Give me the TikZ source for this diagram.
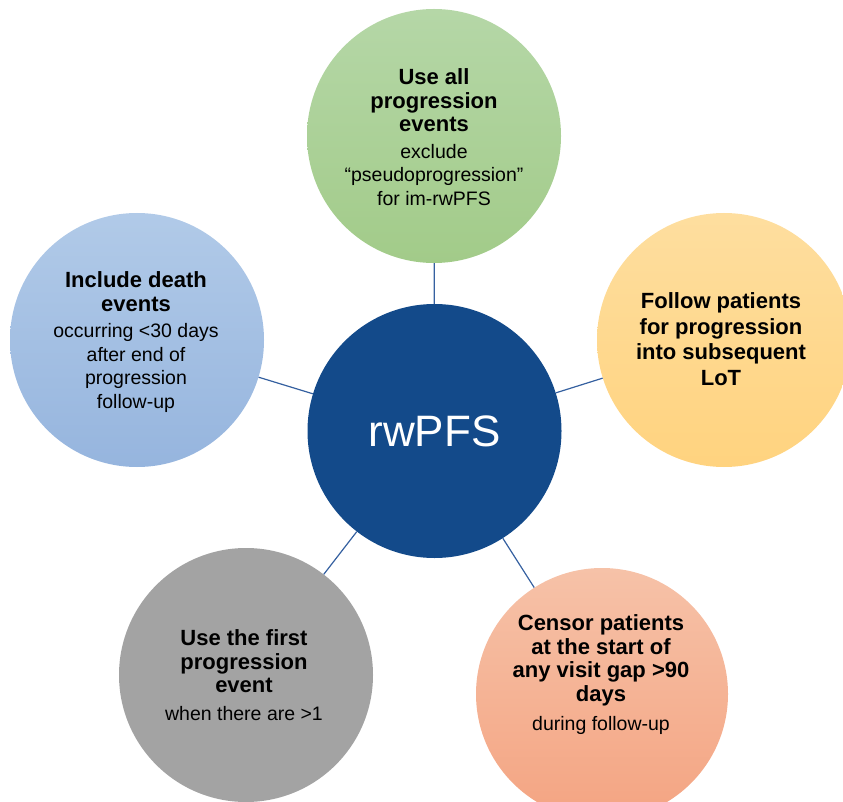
\documentclass[tikz,border=0pt]{standalone}
\usepackage{fontspec}
\setmainfont{Liberation Sans}
\definecolor{ctrblue}{HTML}{134A8A}
\definecolor{lnblue}{HTML}{3560A0}
\definecolor{gtop}{HTML}{B5D7A7}
\definecolor{gbot}{HTML}{A2CB89}
\definecolor{ytop}{HTML}{FEDE9F}
\definecolor{ybot}{HTML}{FFD37F}
\definecolor{btop}{HTML}{B1CAE8}
\definecolor{bbot}{HTML}{96B5DE}
\definecolor{grey}{HTML}{A3A3A3}
\definecolor{stop}{HTML}{F6C2A8}
\definecolor{sbot}{HTML}{F4A482}
\tikzset{
  bub/.style={circle, minimum size=254pt, inner sep=0pt, draw=none},
  ctr/.style={bub, fill=ctrblue, text=white, font=\fontsize{44}{48}\selectfont},
  txt/.style={align=center, inner sep=0pt, font=\fontsize{22}{23.5}\selectfont\bfseries},
  sub/.style={font=\mdseries\fontsize{19.5}{23.5}\selectfont},
  conn/.style={draw=lnblue, line width=1.2pt}
}
\begin{document}
\begin{tikzpicture}[x=1pt,y=-1pt]
\useasboundingbox (0,0) rectangle (843,802);
\node[bub, shading=axis, top color=gtop, bottom color=gbot] (g) at (434,136) {};
\node[bub, shading=axis, top color=ytop, bottom color=ybot] (y) at (724,340) {};
\node[bub, shading=axis, top color=btop, bottom color=bbot] (b) at (137,340) {};
\node[bub, fill=grey] (k) at (246,675) {};
\node[bub, shading=axis, top color=stop, bottom color=sbot, minimum size=252pt] (s) at (602,694) {};
\node[ctr] (c) at (434.5,431) {rwPFS};
\draw[conn] (c) -- (g);
\draw[conn] (c) -- (y);
\draw[conn] (c) -- (b);
\draw[conn] (c) -- (k);
\draw[conn] (c) -- (s);
\node[txt] (gt) at (434,137) {Use all\\progression\\events\\[3pt]{\mdseries\fontsize{19.5}{23.5}\selectfont exclude}\\{\mdseries\fontsize{19.5}{23.5}\selectfont “pseudoprogression”}\\{\mdseries\fontsize{19.5}{23.5}\selectfont for im-rwPFS}};
\node[txt, font=\fontsize{22}{25.5}\selectfont\bfseries] (yt) at (721,339) {Follow patients\\for progression\\into subsequent\\LoT};
\node[txt] (bt) at (136,342) {Include death\\events\\[3pt]{\mdseries\fontsize{19.5}{23.5}\selectfont occurring <30 days}\\{\mdseries\fontsize{19.5}{23.5}\selectfont after end of}\\{\mdseries\fontsize{19.5}{23.5}\selectfont progression}\\{\mdseries\fontsize{19.5}{23.5}\selectfont follow-up}};
\node[txt] (kt) at (244,675) {Use the first\\progression\\event\\[4pt]{\mdseries\fontsize{19.5}{23.5}\selectfont when there are >1}};
\node[txt] (st) at (601,675) {Censor patients\\at the start of\\any visit gap >90\\days\\[6pt]{\mdseries\fontsize{19.5}{23.5}\selectfont during follow-up}};
\end{tikzpicture}
\end{document}
